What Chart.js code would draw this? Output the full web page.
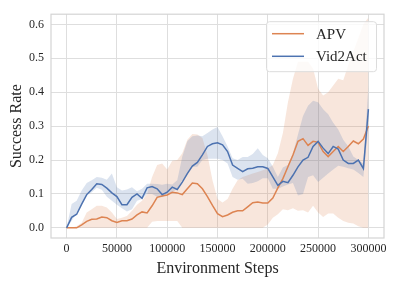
<!DOCTYPE html>
<html>
<head>
<meta charset="utf-8">
<script src="https://cdn.jsdelivr.net/npm/chart.js@4.4.1/dist/chart.umd.min.js"></script>
<style>
  html, body { margin: 0; padding: 0; background: #ffffff; }
  #wrap { width: 399px; height: 285px; position: relative; }
</style>
</head>
<body>
<div id="wrap"><canvas id="c" width="399" height="285"></canvas></div>
<script>
const steps = [0, 5000, 10000, 15000, 20000, 25000, 30000, 35000, 40000, 45000,
  50000, 55000, 60000, 65000, 70000, 75000, 80000, 85000, 90000, 95000,
  100000, 105000, 110000, 115000, 120000, 125000, 130000, 135000, 140000, 145000,
  150000, 155000, 160000, 165000, 170000, 175000, 180000, 185000, 190000, 195000,
  200000, 205000, 210000, 215000, 220000, 225000, 230000, 235000, 240000, 245000,
  250000, 255000, 260000, 265000, 270000, 275000, 280000, 285000, 290000, 295000,
  300000];

const vidMean = [0, .031, .04, .07, .098, .113, .13, .128, .117, .103,
  .092, .068, .068, .09, .1, .087, .118, .122, .115, .098,
  .105, .12, .113, .135, .16, .182, .193, .215, .24, .248,
  .251, .245, .225, .185, .175, .166, .174, .176, .18, .18,
  .175, .15, .125, .137, .133, .155, .18, .2, .208, .24,
  .255, .235, .219, .24, .232, .2, .19, .19, .2, .175,
  .35];
const vidUpper = [0, .07, .08, .11, .132, .14, .15, .148, .142, .16,
  .12, .11, .113, .12, .108, .115, .13, .13, .129, .127,
  .13, .128, .14, .21, .255, .27, .272, .27, .28, .29,
  .297, .27, .24, .205, .2, .209, .209, .218, .235, .215,
  .205, .18, .15, .178, .185, .22, .275, .33, .36, .375,
  .37, .35, .335, .31, .29, .26, .24, .21, .2, .19,
  .42];
const vidLower = [0, .02, .045, .07, .095, .105, .118, .112, .092, .08,
  .068, .058, .048, .055, .08, .085, .1, .1, .092, .09,
  .1, .105, .115, .14, .16, .18, .18, .2, .204, .204,
  .204, .2, .19, .15, .142, .145, .13, .132, .137, .146,
  .146, .115, .115, .122, .128, .132, .095, .1, .15, .155,
  .135, .148, .16, .172, .183, .18, .176, .172, .162, .15,
  .3];

const apvMean = [0, 0, 0, .009, .019, .025, .026, .032, .03, .021,
  .016, .021, .021, .026, .038, .047, .044, .065, .09, .094,
  .097, .105, .103, .098, .115, .132, .13, .115, .092, .066,
  .042, .033, .038, .046, .05, .05, .062, .074, .076, .073,
  .073, .088, .118, .145, .18, .215, .255, .263, .243, .255,
  .252, .225, .21, .225, .24, .225, .24, .256, .248, .262,
  .3];
const apvUpper = [0, 0, .005, .015, .045, .055, .065, .065, .06, .045,
  .026, .03, .035, .05, .068, .08, .1, .15, .185, .19,
  .172, .198, .2, .22, .26, .277, .275, .265, .215, .14,
  .085, .075, .085, .115, .14, .15, .155, .16, .165, .17,
  .175, .185, .22, .28, .37, .44, .49, .49, .49, .47,
  .41, .39, .4, .42, .44, .435, .48, .52, .56, .6,
  .62];
const apvLower = [0, 0, 0, 0, 0, 0, 0, 0, 0, 0,
  0, 0, 0, 0, 0, 0, 0, .018, .02, .02,
  .02, .02, .02, 0, 0, 0, 0, 0, 0, 0,
  0, 0, 0, 0, 0, 0, 0, 0, 0, 0,
  .01, .03, .04, .055, .052, .058, .05, .052, .045, .065,
  .045, .032, .042, .042, .03, .02, .015, .013, .005, 0,
  0];

const xTicks = [0, 50000, 100000, 150000, 200000, 250000, 300000];
const yTicks = [0, 0.1, 0.2, 0.3, 0.4, 0.5, 0.6];
const seriesNames = ['APV', 'Vid2Act'];

const ORANGE = '#dd8452';
const BLUE = '#4c72b0';
const ORANGE_BAND = 'rgba(221,132,82,0.2)';
const BLUE_BAND = 'rgba(76,114,176,0.2)';
const FONT = '"Liberation Serif", "Times New Roman", serif';
const TEXT = '#262626';

const pts = arr => arr.map((v, i) => ({ x: steps[i], y: v }));

const bandBase = { borderWidth: 0, pointRadius: 0, tension: 0 };

const datasets = [
  { label: seriesNames[1], data: pts(vidMean), borderColor: BLUE, borderWidth: 1.5, pointRadius: 0, tension: 0, fill: false },
  { label: seriesNames[0], data: pts(apvMean), borderColor: ORANGE, borderWidth: 1.5, pointRadius: 0, tension: 0, fill: false },
  Object.assign({ label: 'vidU', data: pts(vidUpper), backgroundColor: BLUE_BAND, borderColor: 'rgba(0,0,0,0)', fill: '+1' }, bandBase),
  Object.assign({ label: 'vidL', data: pts(vidLower), borderColor: 'rgba(0,0,0,0)', fill: false }, bandBase),
  Object.assign({ label: 'apvU', data: pts(apvUpper), backgroundColor: ORANGE_BAND, borderColor: 'rgba(0,0,0,0)', fill: '+1' }, bandBase),
  Object.assign({ label: 'apvL', data: pts(apvLower), borderColor: 'rgba(0,0,0,0)', fill: false }, bandBase)
];

const framePlugin = {
  id: 'frame',
  beforeDatasetsDraw(chart) {
    const a = chart.chartArea, ctx = chart.ctx;
    ctx.save();
    ctx.strokeStyle = '#d4d4d4';
    ctx.lineWidth = 1.2;
    ctx.strokeRect(a.left, a.top, a.right - a.left, a.bottom - a.top);
    ctx.restore();
  }
};

const legendPlugin = {
  id: 'innerLegend',
  afterDraw(chart) {
    const a = chart.chartArea, ctx = chart.ctx;
    const items = [
      { text: seriesNames[0], color: ORANGE },
      { text: seriesNames[1], color: BLUE }
    ];
    const w = 110, h = 50;
    const x0 = a.right - 8 - w, y0 = a.top + 7;
    ctx.save();
    ctx.beginPath();
    if (ctx.roundRect) ctx.roundRect(x0 + 0.5, y0 + 0.5, w, h, 3); else ctx.rect(x0 + 0.5, y0 + 0.5, w, h);
    ctx.fillStyle = 'rgba(255,255,255,0.8)';
    ctx.fill();
    ctx.strokeStyle = '#dcdcdc';
    ctx.lineWidth = 1;
    ctx.stroke();
    ctx.font = '15px ' + FONT;
    ctx.textBaseline = 'middle';
    ctx.fillStyle = TEXT;
    items.forEach((it, i) => {
      const yy = y0 + 12.5 + i * 22.6;
      ctx.beginPath();
      ctx.strokeStyle = it.color;
      ctx.lineWidth = 1.5;
      ctx.moveTo(x0 + 6, yy);
      ctx.lineTo(x0 + 38, yy);
      ctx.stroke();
      ctx.fillText(it.text, x0 + 50, yy + 1);
    });
    ctx.restore();
  }
};

new Chart(document.getElementById('c'), {
  type: 'line',
  data: { datasets },
  options: {
    responsive: false,
    animation: false,
    devicePixelRatio: 1,
    layout: { padding: { left: 0, right: 15, top: 10, bottom: 0 } },
    plugins: {
      legend: { display: false },
      tooltip: { enabled: false },
      filler: { propagate: false }
    },
    scales: {
      x: {
        type: 'linear',
        min: -15500,
        max: 315500,
        afterBuildTicks: s => { s.ticks = xTicks.map(v => ({ value: v })); },
        afterFit: s => { s.height = 47; },
        grid: { color: '#dedede', lineWidth: 1, drawTicks: false },
        border: { display: false },
        ticks: {
          color: TEXT, font: { family: FONT, size: 12 }, padding: 4, maxRotation: 0,
          callback: v => String(v)
        },
        title: { display: true, text: 'Environment Steps', color: TEXT, font: { family: FONT, size: 16 }, padding: { top: 0, bottom: 7 } }
      },
      y: {
        min: -0.03,
        max: 0.63,
        afterBuildTicks: s => { s.ticks = yTicks.map(v => ({ value: v })); },
        afterFit: s => { s.width = 51; },
        grid: { color: '#dedede', lineWidth: 1, drawTicks: false },
        border: { display: false },
        ticks: {
          color: TEXT, font: { family: FONT, size: 12 }, padding: 7,
          callback: v => Number(v).toFixed(1)
        },
        title: { display: true, text: 'Success Rate', color: TEXT, font: { family: FONT, size: 16 }, padding: { top: 7, bottom: 4 } }
      }
    }
  },
  plugins: [framePlugin, legendPlugin]
});
</script>
</body>
</html>
